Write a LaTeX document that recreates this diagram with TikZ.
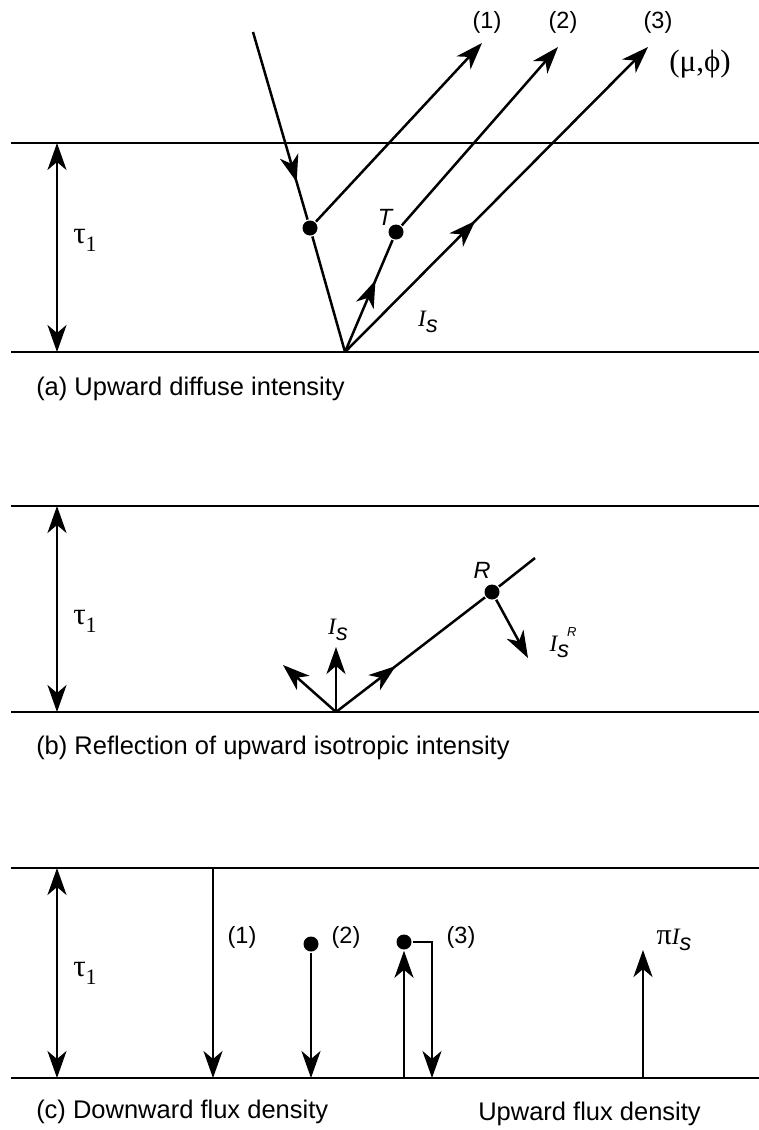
\documentclass[tikz,border=0pt]{standalone}
\usepackage{fontspec}
\setmainfont{Liberation Sans}
\newfontfamily\serif{Liberation Serif}
\usetikzlibrary{arrows.meta,decorations.markings}

\newcommand\Is{{\serif\itshape I}\raisebox{-6pt}{\itshape s}}
\newcommand\taui{{\serif\fontsize{31}{34}\selectfont τ\raisebox{-8pt}{\fontsize{22}{24}\selectfont 1}}}

\tikzset{
  dot/.style={circle, fill, inner sep=0pt, minimum size=15pt},
  lab/.style={font=\fontsize{23.5}{28}\selectfont, inner sep=0pt},
  caption/.style={font=\fontsize{25.5}{30}\selectfont, anchor=base west, inner sep=0pt},
  midarrow/.style={postaction={decorate},
    decoration={markings, mark=at position #1 with {\arrow{>}}}}
}

\begin{document}
\begin{tikzpicture}[x=1pt, y=-1pt, line width=2.5pt,
  >={Stealth[length=27pt,width=19pt,inset=8pt]}]
\useasboundingbox (0,0) rectangle (759,1130);

% the three slabs
\foreach \t/\b/\m in {143/352/240, 506/712/621, 868/1078/973} {
  \draw (11,\t) -- (759,\t);
  \draw (11,\b) -- (759,\b);
  \coordinate (top\t) at (57,\t);
  \coordinate (bot\t) at (57,\b);
  \draw[<->] (top\t) -- (bot\t);
  \node[lab] (tau\t) at (85,\m) {\taui};
}

% (a) upward diffuse intensity
\coordinate (src) at (253,32);
\node[dot] (scat) at (310,228) {};
\node[dot] (trans) at (396,232) {};
\coordinate (refl) at (345,352);
\coordinate (out1) at (482,43);
\coordinate (out2) at (558,47);
\coordinate (out3) at (648,47);
\draw[midarrow=0.8] (src) -- (scat);
\draw (scat) -- (refl);
\draw[->] (scat) -- (out1);
\draw[midarrow=0.64] (refl) -- (trans);
\draw[->] (trans) -- (out2);
\draw[->, midarrow=0.43] (refl) -- (out3);
\node[lab] (a1) at (487,22) {(1)};
\node[lab] (a2) at (563,22) {(2)};
\node[lab] (a3) at (658,22) {(3)};
\node[lab, font=\serif\fontsize{31}{34}\selectfont] (dir) at (700,64) {(μ,ϕ)};
\node[lab] (tlab) at (385,217) {\itshape T};
\node[lab] (isa) at (428,322) {\Is};
\node[caption] (capa) at (35,395) {(a) Upward diffuse intensity};

% (b) reflection
\coordinate (bbase) at (336,712);
\coordinate (bleft) at (283,665);
\coordinate (bup) at (336,647);
\node[dot] (rdot) at (492,592) {};
\coordinate (bend) at (535,558);
\coordinate (rout) at (528,658);
\draw[->] (bbase) -- (bleft);
\draw[->] (bbase) -- (bup);
\draw[midarrow=0.4] (bbase) -- (rdot);
\draw (rdot) -- (bend);
\draw[->] (rdot) -- (rout);
\node[lab] (rlab) at (482,570) {\itshape R};
\node[lab] (isb) at (338,630) {\Is};
\node[lab] (isr) at (563,643) {\Is\hspace{-2pt}\raisebox{15pt}{\fontsize{13}{15}\selectfont\itshape R}};
\node[caption] (capb) at (35,754) {(b) Reflection of upward isotropic intensity};

% (c) flux densities
\coordinate (c1t) at (213,868);
\coordinate (c1b) at (213,1078);
\draw[->] (c1t) -- (c1b);
\node[dot] (c2) at (311,944) {};
\coordinate (c2b) at (311,1078);
\draw[->] (c2) -- (c2b);
\node[dot] (c3) at (404,942) {};
\coordinate (c3b) at (404,1078);
\coordinate (c3r) at (432,942);
\coordinate (c3rb) at (432,1078);
\draw[->] (c3b) -- (c3);
\draw[->] (c3) -- (c3r) -- (c3rb);
\coordinate (pib) at (643,1078);
\coordinate (pit) at (643,950);
\draw[->] (pib) -- (pit);
\node[lab] (c1lab) at (242,937) {(1)};
\node[lab] (c2lab) at (346,937) {(2)};
\node[lab] (c3lab) at (461,937) {(3)};
\node[lab] (pilab) at (674,940) {{\serif\fontsize{30}{32}\selectfont π}\Is};
\node[caption] (capc) at (35,1118) {(c) Downward flux density};
\node[caption] (capu) at (477,1120) {Upward flux density};
\end{tikzpicture}
\end{document}
